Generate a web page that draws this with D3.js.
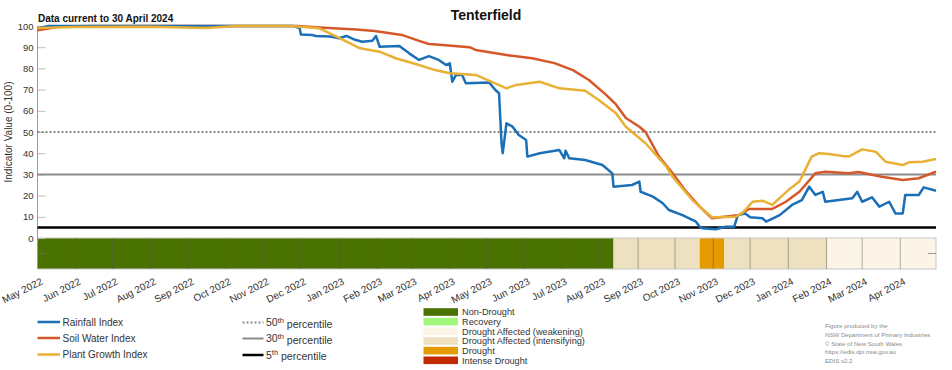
<!DOCTYPE html>
<html>
<head>
<meta charset="utf-8">
<script src="https://cdn.jsdelivr.net/npm/d3@7"></script>
<style>
    body { margin: 0; background: #fff; }
    svg { font-family: "Liberation Sans", Arial, sans-serif; }
</style>
</head>
<body>
<div id="chart"></div>
<script>
// values
var rainfallIndex = [
    ["2022-05-01", 99], ["2022-05-10", 100], ["2022-11-25", 100], ["2022-11-30", 99],
    ["2022-12-01", 96], ["2022-12-10", 95.8], ["2022-12-13", 95.3], ["2022-12-25", 95],
    ["2023-01-01", 94.2], ["2023-01-07", 95.3], ["2023-01-14", 93.5], ["2023-01-20", 92.6],
    ["2023-01-28", 93], ["2023-01-31", 95.3], ["2023-02-03", 90.2], ["2023-02-19", 90.6],
    ["2023-02-27", 87.1], ["2023-03-07", 84], ["2023-03-15", 85.8], ["2023-03-23", 84],
    ["2023-03-29", 81.6], ["2023-04-01", 82.4], ["2023-04-03", 73.7], ["2023-04-06", 76.9],
    ["2023-04-11", 76.9], ["2023-04-14", 73], ["2023-05-03", 73.3], ["2023-05-08", 69.8],
    ["2023-05-11", 68.3], ["2023-05-13", 44.7], ["2023-05-14", 40], ["2023-05-17", 54.1],
    ["2023-05-22", 52.5], ["2023-05-27", 48.6], ["2023-06-02", 46.2], ["2023-06-03", 38.4],
    ["2023-06-13", 40], ["2023-06-29", 41.5], ["2023-07-03", 37.6], ["2023-07-04", 41.2],
    ["2023-07-07", 37.6], ["2023-07-20", 36.8], ["2023-08-03", 34.4], ["2023-08-11", 30.5],
    ["2023-08-12", 24.2], ["2023-08-27", 25], ["2023-09-02", 26.6], ["2023-09-03", 21.8],
    ["2023-09-13", 19.5], ["2023-09-21", 16.4], ["2023-09-26", 13.2], ["2023-10-07", 10.8],
    ["2023-10-18", 7.7], ["2023-10-21", 5.3], ["2023-10-23", 4.6], ["2023-11-03", 4.1],
    ["2023-11-11", 5.3], ["2023-11-18", 5.3], ["2023-11-21", 10.8], ["2023-11-27", 11.6],
    ["2023-12-01", 9.8], ["2023-12-11", 9.3], ["2023-12-14", 7.7], ["2023-12-25", 10.8],
    ["2024-01-04", 15.6], ["2024-01-12", 17.9], ["2024-01-18", 24.2], ["2024-01-23", 20.3],
    ["2024-01-29", 21.8], ["2024-01-31", 17.1], ["2024-02-11", 17.9], ["2024-02-22", 18.7],
    ["2024-02-26", 21.8], ["2024-03-01", 17.1], ["2024-03-09", 19.2], ["2024-03-15", 14.8],
    ["2024-03-23", 17.1], ["2024-03-28", 11.6], ["2024-04-03", 11.6], ["2024-04-05", 20.3],
    ["2024-04-16", 20.3], ["2024-04-20", 23.9], ["2024-04-30", 22.3]
];

var soilWaterIndex = [
    ["2022-05-01", 98], ["2022-05-20", 99.8], ["2022-06-15", 100], ["2022-11-28", 100],
    ["2022-12-20", 99.2], ["2023-01-15", 98.4], ["2023-01-30", 97.6], ["2023-02-21", 95.8],
    ["2023-03-07", 93], ["2023-03-15", 91.5], ["2023-03-26", 91], ["2023-04-17", 90],
    ["2023-04-22", 88.7], ["2023-05-17", 86.3], ["2023-06-07", 84.8], ["2023-06-25", 82.5],
    ["2023-07-10", 79.2], ["2023-07-23", 74.5], ["2023-08-06", 67.5], ["2023-08-14", 63],
    ["2023-08-22", 56.6], ["2023-09-02", 52.5], ["2023-09-07", 50], ["2023-09-18", 38.4],
    ["2023-09-29", 30.5], ["2023-10-09", 22.6], ["2023-10-21", 14.8], ["2023-10-31", 9.3],
    ["2023-11-22", 10.8], ["2023-11-30", 13.7], ["2023-12-19", 13.7], ["2023-12-30", 17.1],
    ["2024-01-10", 21.8], ["2024-01-23", 30.5], ["2024-01-31", 31.3], ["2024-02-19", 30.5],
    ["2024-02-27", 31.1], ["2024-03-17", 28.9], ["2024-04-03", 27.4], ["2024-04-16", 28.2],
    ["2024-04-30", 31.3]
];

var plantGrowthIndex = [
    ["2022-05-01", 99], ["2022-06-01", 99.5], ["2022-08-01", 99.6], ["2022-09-15", 99],
    ["2022-10-10", 100], ["2022-11-22", 100], ["2022-12-16", 98.9], ["2022-12-30", 95],
    ["2023-01-18", 89.5], ["2023-02-03", 87.9], ["2023-02-16", 84.8], ["2023-03-07", 81.6],
    ["2023-03-20", 79.2], ["2023-04-01", 77.7], ["2023-04-22", 76.9], ["2023-04-30", 74.9],
    ["2023-05-17", 70.6], ["2023-05-25", 72.2], ["2023-06-13", 73.7], ["2023-06-29", 70.6],
    ["2023-07-20", 69.5], ["2023-07-31", 65.1], ["2023-08-14", 58.8], ["2023-08-22", 52.5],
    ["2023-09-07", 44.7], ["2023-09-24", 33.6], ["2023-09-29", 28.9], ["2023-10-15", 17.9],
    ["2023-10-31", 9.8], ["2023-11-19", 10], ["2023-11-25", 12], ["2023-12-03", 17.1],
    ["2023-12-11", 17.6], ["2023-12-19", 15.6], ["2024-01-01", 22.6], ["2024-01-10", 26.6],
    ["2024-01-20", 38.4], ["2024-01-26", 40], ["2024-02-03", 39.6], ["2024-02-14", 38.7],
    ["2024-02-19", 38.4], ["2024-03-01", 41.8], ["2024-03-12", 40.7], ["2024-03-20", 36],
    ["2024-04-03", 34.4], ["2024-04-08", 35.7], ["2024-04-19", 36], ["2024-04-30", 37.3]
];

// drought status periods: [start, end, category]
var droughtPeriods = [
    ["2022-05-01", "2023-08-12", "Non-Drought"],
    ["2023-08-12", "2023-10-21", "Drought Affected (intensifying)"],
    ["2023-10-21", "2023-11-10", "Drought"],
    ["2023-11-10", "2024-02-02", "Drought Affected (intensifying)"],
    ["2024-02-02", "2024-04-30", "Drought Affected (weakening)"]
];

var droughtCategories = ["Non-Drought", "Recovery", "Drought Affected (weakening)",
    "Drought Affected (intensifying)", "Drought", "Intense Drought"];
var droughtColors = ["#4a7200", "#a3f77c", "#fdf4e8", "#eee1bf", "#e59a00", "#c22a04"];

var indexNames = ["Rainfall Index", "Soil Water Index", "Plant Growth Index"];
var indexColors = ["#1b6fb6", "#d4582a", "#e8b135"];

var percentileValues = [50, 30, 5];
var percentileLabels = ["50", "30", "5"];

var yTicks = [0, 10, 20, 30, 40, 50, 60, 70, 80, 90, 100];
var dateRange = ["2022-05-01", "2024-04-30"];

var footerLines = ["Figure produced by the", "NSW Department of Primary Industries",
    "\u00a9 State of New South Wales", "https://edis.dpi.nsw.gov.au", "EDIS v2.2"];

var width = 952,
    height = 370;

var parse = d3.timeParse("%Y-%m-%d");

var svg = d3.select("#chart")
    .append("svg")
    .attr("width", width)
    .attr("height", height);

var x = d3.scaleTime()
    .domain(dateRange.map(parse))
    .range([37.5, 936]);

var y = d3.scaleLinear()
    .domain([0, 100])
    .range([238, 26]);

var bandTop = 238,
    bandBottom = 269;

// drought band
svg.append("g")
    .selectAll("rect")
    .data(droughtPeriods)
    .enter()
    .append("rect")
    .attr("x", function (d) { return x(parse(d[0])); })
    .attr("y", bandTop)
    .attr("width", function (d) { return x(parse(d[1])) - x(parse(d[0])); })
    .attr("height", bandBottom - bandTop)
    .attr("fill", function (d) { return droughtColors[droughtCategories.indexOf(d[2])]; });

svg.append("rect")
    .attr("x", x.range()[0])
    .attr("y", bandTop)
    .attr("width", x.range()[1] - x.range()[0])
    .attr("height", bandBottom - bandTop)
    .attr("fill", "none")
    .attr("stroke", "#c8c8c8")
    .attr("stroke-width", 1);

var months = x.ticks(d3.timeMonth.every(1));

svg.append("g")
    .selectAll("line")
    .data(months)
    .enter()
    .append("line")
    .attr("x1", function (d) { return x(d); })
    .attr("x2", function (d) { return x(d); })
    .attr("y1", bandTop)
    .attr("y2", bandBottom)
    .attr("stroke", "#555")
    .attr("stroke-opacity", 0.45)
    .attr("stroke-width", 1);

// small ticks in the band
svg.append("line")
    .attr("x1", 38).attr("x2", 46)
    .attr("y1", 253.5).attr("y2", 253.5)
    .attr("stroke", "#777").attr("stroke-opacity", 0.6);
svg.append("line")
    .attr("x1", 928).attr("x2", 936)
    .attr("y1", 253.5).attr("y2", 253.5)
    .attr("stroke", "#999");

// y axis
var yAxis = svg.append("g")
    .attr("transform", "translate(" + x.range()[0] + ",0)")
    .call(d3.axisLeft(y).tickValues(yTicks).tickSizeInner(-8).tickSizeOuter(0).tickPadding(4));

yAxis.select(".domain").remove();
yAxis.selectAll("line").attr("stroke", "#bdbdbd");
yAxis.selectAll("text")
    .attr("font-size", "9.5px")
    .attr("fill", "#333");

svg.append("line")
    .attr("x1", x.range()[0]).attr("x2", x.range()[0])
    .attr("y1", 26).attr("y2", bandBottom)
    .attr("stroke", "#9a9a9a")
    .attr("stroke-width", 1);

svg.append("text")
    .attr("transform", "translate(12," + y(50) + ") rotate(-90)")
    .attr("text-anchor", "middle")
    .attr("font-size", "10px")
    .attr("fill", "#333")
    .text("Indicator Value (0-100)");

// x axis labels
var xAxis = svg.append("g")
    .attr("transform", "translate(0," + bandBottom + ")")
    .call(d3.axisBottom(x).tickValues(months).tickFormat(d3.timeFormat("%b %Y")).tickSize(0));

xAxis.select(".domain").remove();
xAxis.selectAll("text")
    .attr("text-anchor", "end")
    .attr("font-size", "10px")
    .attr("fill", "#333")
    .attr("transform", "translate(4,12) rotate(-27)")
    .attr("dy", "0");

// percentile lines
var percentileStyles = [
    { stroke: "#8c8c8c", width: 2, dash: "2,2" },
    { stroke: "#8c8c8c", width: 2, dash: null },
    { stroke: "#000", width: 2.5, dash: null }
];

svg.append("g")
    .selectAll("line")
    .data(percentileValues)
    .enter()
    .append("line")
    .attr("x1", x.range()[0])
    .attr("x2", x.range()[1])
    .attr("y1", function (d) { return y(d); })
    .attr("y2", function (d) { return y(d); })
    .attr("stroke", function (d, i) { return percentileStyles[i].stroke; })
    .attr("stroke-width", function (d, i) { return percentileStyles[i].width; })
    .attr("stroke-dasharray", function (d, i) { return percentileStyles[i].dash; });

// index lines
var line = d3.line()
    .x(function (d) { return x(parse(d[0])); })
    .y(function (d) { return y(d[1]); });

var series = [soilWaterIndex, rainfallIndex, plantGrowthIndex];
var seriesColor = [indexColors[1], indexColors[0], indexColors[2]];

svg.append("g")
    .selectAll("path")
    .data(series)
    .enter()
    .append("path")
    .attr("d", line)
    .attr("fill", "none")
    .attr("stroke", function (d, i) { return seriesColor[i]; })
    .attr("stroke-width", 2.5)
    .attr("stroke-linejoin", "round");

// titles
svg.append("text")
    .attr("x", 486)
    .attr("y", 20)
    .attr("text-anchor", "middle")
    .attr("font-size", "14px")
    .attr("font-weight", "bold")
    .attr("fill", "#111")
    .text("Tenterfield");

svg.append("text")
    .attr("x", 38)
    .attr("y", 22)
    .attr("font-size", "10px")
    .attr("font-weight", "bold")
    .attr("fill", "#111")
    .text("Data current to 30 April 2024");

// legend: indices
var legendRows = [322, 338, 354.5];

var indexLegend = svg.append("g")
    .selectAll("g")
    .data(indexNames)
    .enter()
    .append("g")
    .attr("transform", function (d, i) { return "translate(37.5," + legendRows[i] + ")"; });

indexLegend.append("line")
    .attr("x1", 0).attr("x2", 22.5)
    .attr("stroke", function (d, i) { return indexColors[i]; })
    .attr("stroke-width", 2.5);

indexLegend.append("text")
    .attr("x", 25)
    .attr("dy", "0.35em")
    .attr("font-size", "10px")
    .attr("fill", "#333")
    .text(function (d) { return d; });

// legend: percentiles
var pctLegend = svg.append("g")
    .selectAll("g")
    .data(percentileValues)
    .enter()
    .append("g")
    .attr("transform", function (d, i) { return "translate(242.5," + (legendRows[i] + 0.5) + ")"; });

pctLegend.append("line")
    .attr("x1", 0).attr("x2", 21)
    .attr("stroke", function (d, i) { return percentileStyles[i].stroke; })
    .attr("stroke-width", function (d, i) { return percentileStyles[i].width; })
    .attr("stroke-dasharray", function (d, i) { return percentileStyles[i].dash; });

var pctText = pctLegend.append("text")
    .attr("x", 23.5)
    .attr("dy", "0.35em")
    .attr("font-size", "10.5px")
    .attr("fill", "#333");

pctText.append("tspan").text(function (d, i) { return percentileLabels[i]; });
pctText.append("tspan")
    .attr("dy", "-0.45em")
    .attr("font-size", "7.5px")
    .text("th");
pctText.append("tspan")
    .attr("dy", "0.45em")
    .text(" percentile");

// legend: drought categories
var droughtLegend = svg.append("g")
    .selectAll("g")
    .data(droughtCategories)
    .enter()
    .append("g")
    .attr("transform", function (d, i) { return "translate(423.5," + (312 + i * 9.66) + ")"; });

droughtLegend.append("rect")
    .attr("x", 0)
    .attr("y", -3.8)
    .attr("width", 34.5)
    .attr("height", 7.6)
    .attr("fill", function (d, i) { return droughtColors[i]; });

droughtLegend.append("text")
    .attr("x", 38.5)
    .attr("dy", "0.35em")
    .attr("font-size", "9.2px")
    .attr("fill", "#333")
    .text(function (d) { return d; });

// footer
svg.append("g")
    .selectAll("text")
    .data(footerLines)
    .enter()
    .append("text")
    .attr("x", 825)
    .attr("y", function (d, i) { return 328 + i * 8.8; })
    .attr("font-size", "6.1px")
    .attr("fill", "#8a8a8a")
    .text(function (d) { return d; });
</script>
</body>
</html>
